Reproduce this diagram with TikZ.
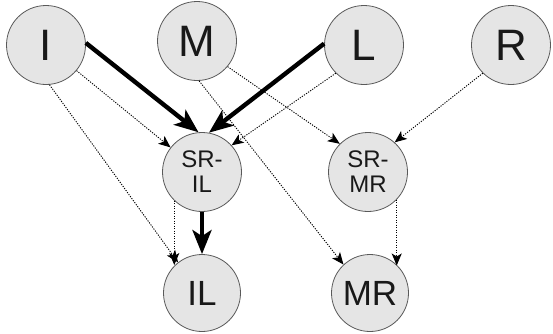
\documentclass[tikz,border=0pt]{standalone}
\usepackage{fontspec}
\setmainfont{Liberation Sans}
\usetikzlibrary{arrows.meta}

\begin{document}
\begin{tikzpicture}[x=1pt,y=-1pt]
\tikzstyle{every node}=[circle, draw=black!65, fill=black!10, line width=0.8pt, inner sep=0pt, minimum size=79pt, text=black!90]
\tikzstyle{big}=[font=\fontsize{44}{44}\selectfont]
\tikzstyle{mid}=[font=\fontsize{35}{35}\selectfont, minimum size=77pt]
\tikzstyle{small}=[font=\fontsize{24}{25}\selectfont, align=center]
\tikzstyle{strong}=[line width=4.4pt, -{Stealth[length=24pt, width=19pt, inset=6pt]}]
\tikzstyle{weak}=[line width=0.9pt, dash pattern=on 1.2pt off 1.3pt, -{Stealth[length=12pt, width=10pt, inset=3pt]}]
\useasboundingbox (0,0) rectangle (553,333);
\draw (46,45) node (I) [big] {I};
\draw (197,41) node (M) [big] {M};
\draw (364,45) node (L) [big] {L};
\draw (511,45) node (R) [big] {R};
\draw (202,172) node (SRIL) [small] {SR-\\IL};
\draw (368,172) node (SRMR) [small] {SR-\\MR};
\draw (202,293) node (IL) [mid] {IL};
\draw (370,293) node (MR) [mid] {MR};
% dotted links
\draw[weak] (I.-40) -- (SRIL.142);
\draw[weak] (I.-85) -- (IL.128);
\draw[weak] (M.-40) -- (SRMR.135);
\draw[weak] (M.-87) -- (MR.133);
\draw[weak] (L.225) -- (SRIL.42);
\draw[weak] (R.225) -- (SRMR.48);
\draw[weak] (SRIL.226) -- (SRIL.226 |- IL.134);
\draw[weak] (SRMR.-44) -- (SRMR.-44 |- MR.45);
% heavy links
\draw[strong] (I.3) -- (SRIL.95);
\draw[strong] (L.178) -- (SRIL.80);
\draw[strong] (SRIL.south) -- (IL.north);
\end{tikzpicture}
\end{document}
